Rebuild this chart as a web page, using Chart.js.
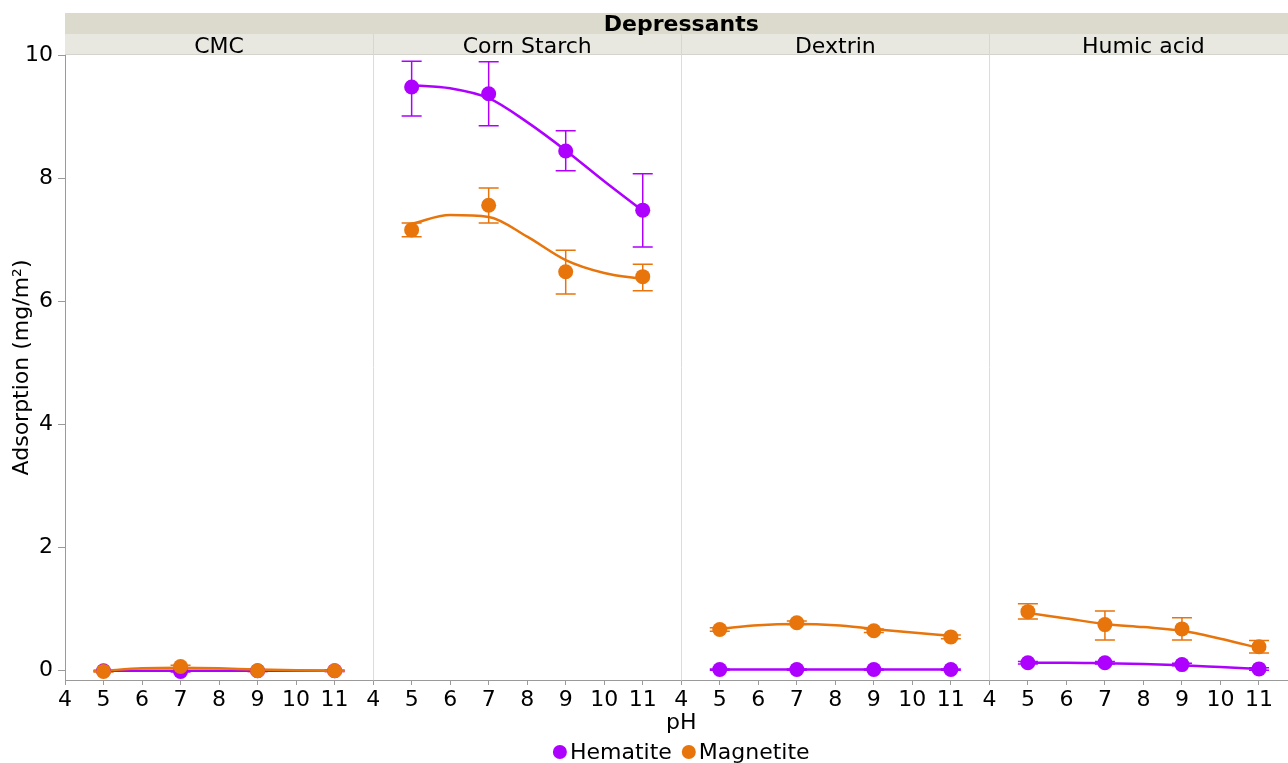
<!DOCTYPE html>
<html><head><meta charset="utf-8">
<script src="https://cdn.jsdelivr.net/npm/chart.js@4/dist/chart.umd.min.js"></script>
<style>
html,body{margin:0;padding:0;background:#fff;overflow:hidden;width:1288px;height:763px}
#wrap{position:relative;width:1288px;height:763px;overflow:hidden}
canvas{display:block}
</style>
</head><body><div id="wrap"><canvas id="c" width="1305" height="763"></canvas></div>
<script>
const groupTitle = 'Depressants';
const depressants = ['CMC', 'Corn Starch', 'Dextrin', 'Humic acid'];
const seriesNames = ['Hematite', 'Magnetite'];
const pH = [5, 7, 9, 11];

const hematiteMean = [[0.00, -0.01, 0.00, 0.00], [9.48, 9.37, 8.44, 7.48], [0.02, 0.02, 0.02, 0.02], [0.13, 0.13, 0.10, 0.03]];
const hematiteLow  = [[-0.01, -0.02, -0.01, -0.01], [9.01, 8.85, 8.12, 6.88], [0.01, 0.01, 0.01, 0.01], [0.11, 0.11, 0.08, 0.01]];
const hematiteHigh = [[0.01, 0.00, 0.01, 0.01], [9.90, 9.89, 8.77, 8.07], [0.03, 0.03, 0.03, 0.03], [0.15, 0.15, 0.12, 0.05]];

const magnetiteMean = [[-0.01, 0.07, 0.00, 0.00], [7.16, 7.56, 6.48, 6.40], [0.67, 0.78, 0.65, 0.55], [0.96, 0.75, 0.68, 0.39]];
const magnetiteLow  = [[-0.02, 0.05, -0.01, -0.01], [7.05, 7.27, 6.12, 6.17], [0.64, 0.75, 0.62, 0.52], [0.84, 0.50, 0.50, 0.29]];
const magnetiteHigh = [[0.00, 0.09, 0.01, 0.01], [7.27, 7.84, 6.83, 6.60], [0.70, 0.81, 0.68, 0.58], [1.09, 0.97, 0.86, 0.49]];

const fitPH = [5, 6, 7, 8, 9, 10, 11];
const hematiteFit  = [[0, 0, 0, 0, 0, 0, 0], [9.51, 9.46, 9.30, 8.91, 8.45, 7.95, 7.47], [0.02, 0.02, 0.02, 0.02, 0.02, 0.02, 0.02], [0.13, 0.13, 0.12, 0.11, 0.09, 0.06, 0.03]];
const magnetiteFit = [[0.00, 0.04, 0.05, 0.04, 0.02, 0.01, 0.00], [7.26, 7.40, 7.37, 7.05, 6.67, 6.46, 6.36], [0.68, 0.74, 0.76, 0.74, 0.68, 0.62, 0.57], [0.94, 0.85, 0.76, 0.71, 0.65, 0.52, 0.37]];

const xTickPH = [4, 5, 6, 7, 8, 9, 10, 11];
const yTicks = [0, 2, 4, 6, 8, 10];

const PH_MIN = 4, SPAN = 8;
const colors = { Hematite: '#ae00ff', Magnetite: '#e8740c' };
const FONT = 'DejaVu Sans';
const FS = 22;

function pointData(means) {
  const out = [];
  means.forEach((arr, p) => arr.forEach((v, i) => out.push({ x: pH[i] + SPAN * p, y: v })));
  return out;
}
function fitData(fits) {
  const out = [];
  fits.forEach((arr, p) => {
    arr.forEach((v, i) => out.push({ x: fitPH[i] + SPAN * p, y: v }));
    out.push({ x: fitPH[fitPH.length - 1] + SPAN * p + 0.5, y: null });
  });
  return out;
}

const errSeries = [
  { color: colors.Hematite, low: hematiteLow, high: hematiteHigh },
  { color: colors.Magnetite, low: magnetiteLow, high: magnetiteHigh }
];

const errorBars = {
  id: 'errorBars',
  beforeDatasetsDraw(chart) {
    const { ctx, chartArea, scales: { x, y } } = chart;
    ctx.save();
    ctx.beginPath();
    ctx.rect(chartArea.left, chartArea.top, chartArea.right - chartArea.left, chartArea.bottom - chartArea.top);
    ctx.clip();
    errSeries.forEach(s => {
      ctx.strokeStyle = s.color;
      ctx.lineWidth = 1.5;
      s.low.forEach((arr, p) => arr.forEach((lo, i) => {
        const px = x.getPixelForValue(pH[i] + SPAN * p);
        const y1 = y.getPixelForValue(lo), y2 = y.getPixelForValue(s.high[p][i]);
        ctx.beginPath();
        ctx.moveTo(px, y1); ctx.lineTo(px, y2);
        ctx.moveTo(px - 10, y1); ctx.lineTo(px + 10, y1);
        ctx.moveTo(px - 10, y2); ctx.lineTo(px + 10, y2);
        ctx.stroke();
      }));
    });
    ctx.restore();
  }
};

const headers = {
  id: 'headers',
  afterDraw(chart) {
    const { ctx, chartArea, scales: { x } } = chart;
    const L = chartArea.left, R = chartArea.right;
    ctx.save();
    ctx.fillStyle = '#dcdacd';
    ctx.fillRect(L, 13, R - L, 21);
    ctx.fillStyle = '#e8e8e1';
    ctx.fillRect(L, 34, R - L, 21);
    ctx.strokeStyle = '#d4d4cc';
    ctx.lineWidth = 1;
    ctx.beginPath(); ctx.moveTo(L, 54.5); ctx.lineTo(R, 54.5); ctx.stroke();
    ctx.fillStyle = '#000';
    ctx.textAlign = 'center';
    ctx.textBaseline = 'middle';
    ctx.font = 'bold ' + FS + 'px "' + FONT + '"';
    ctx.fillText(groupTitle, (L + R) / 2, 25);
    ctx.font = FS + 'px "' + FONT + '"';
    depressants.forEach((name, p) => {
      const a = x.getPixelForValue(PH_MIN + SPAN * p), b = x.getPixelForValue(PH_MIN + SPAN * (p + 1));
      ctx.fillStyle = '#000';
      ctx.fillText(name, (a + b) / 2, 47);
      if (p > 0) {
        ctx.strokeStyle = '#d6d6d6';
        ctx.beginPath(); ctx.moveTo(Math.round(a) + 0.5, 34); ctx.lineTo(Math.round(a) + 0.5, 55); ctx.stroke();
      }
    });
    // legend
    const r = 7, gap = 3, itemGap = 10;
    const widths = seriesNames.map(n => ctx.measureText(n).width);
    const total = widths.reduce((s, w) => s + 2 * r + gap + w, 0) + itemGap * (seriesNames.length - 1);
    let cx = (L + R) / 2 - total / 2;
    const ly = 752;
    ctx.textAlign = 'left';
    seriesNames.forEach((n, i) => {
      ctx.fillStyle = colors[n];
      ctx.beginPath(); ctx.arc(cx + r, ly, r, 0, Math.PI * 2); ctx.fill();
      cx += 2 * r + gap;
      ctx.fillStyle = '#000';
      ctx.fillText(n, cx, ly + 1);
      cx += widths[i] + itemGap;
    });
    ctx.restore();
  }
};

Chart.defaults.font.family = FONT;
Chart.defaults.font.size = FS;
Chart.defaults.color = '#000';

const boundaries = depressants.slice(1).map((_, p) => PH_MIN + SPAN * (p + 1));

new Chart(document.getElementById('c'), {
  type: 'line',
  data: {
    datasets: [
      { label: 'Hematite fit', data: fitData(hematiteFit), borderColor: colors.Hematite, borderWidth: 2.5, pointRadius: 0, cubicInterpolationMode: 'monotone', spanGaps: false, order: 4 },
      { label: 'Magnetite fit', data: fitData(magnetiteFit), borderColor: colors.Magnetite, borderWidth: 2.5, pointRadius: 0, cubicInterpolationMode: 'monotone', spanGaps: false, order: 3 },
      { label: 'Hematite', data: pointData(hematiteMean), showLine: false, pointRadius: 7.5, pointBackgroundColor: colors.Hematite, pointBorderWidth: 0, borderColor: colors.Hematite, order: 2 },
      { label: 'Magnetite', data: pointData(magnetiteMean), showLine: false, pointRadius: 7.5, pointBackgroundColor: colors.Magnetite, pointBorderWidth: 0, borderColor: colors.Magnetite, order: 1 }
    ]
  },
  options: {
    responsive: false,
    animation: false,
    layout: { padding: { top: 55, right: 0, bottom: 27, left: 0 } },
    plugins: { legend: { display: false }, tooltip: { enabled: false } },
    scales: {
      x: {
        type: 'linear', min: PH_MIN, max: PH_MIN + SPAN * depressants.length,
        afterBuildTicks: s => {
          const t = [];
          depressants.forEach((_, p) => xTickPH.forEach(v => t.push({ value: v + SPAN * p })));
          s.ticks = t;
        },
        afterFit: s => { s.height = 56; },
        ticks: {
          autoSkip: false, maxRotation: 0, padding: 2, color: '#000', font: { size: FS },
          callback: v => String(Math.round((((v - PH_MIN) % SPAN) + SPAN) % SPAN + PH_MIN))
        },
        grid: {
          color: c => (c.tick && boundaries.includes(c.tick.value)) ? '#dcdcdc' : 'rgba(0,0,0,0)',
          tickColor: '#9a9a9a', tickLength: 5, drawTicks: true, lineWidth: 1
        },
        border: { display: true, color: '#9a9a9a' },
        title: { display: true, text: 'pH', color: '#000', font: { size: FS }, padding: { top: 0, bottom: 0 } }
      },
      y: {
        type: 'linear', min: -0.15, max: 10,
        afterBuildTicks: s => { s.ticks = yTicks.map(v => ({ value: v })); },
        afterFit: s => { s.width = 65; },
        ticks: { padding: 5, color: '#000', font: { size: FS } },
        grid: { drawOnChartArea: false, drawTicks: true, tickLength: 7, tickColor: '#9a9a9a' },
        border: { display: true, color: '#9a9a9a' },
        title: { display: true, text: 'Adsorption (mg/m²)', color: '#000', font: { size: FS }, padding: { top: 9, bottom: 0 } }
      }
    }
  },
  plugins: [errorBars, headers]
});
</script>
</body></html>
